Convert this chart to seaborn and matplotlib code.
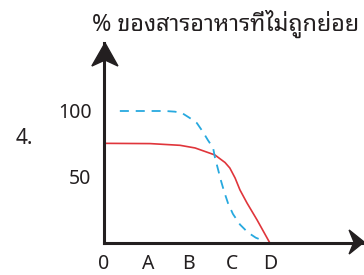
import pandas as pd
import seaborn as sns
import matplotlib.pyplot as plt
from matplotlib.patches import Polygon

# ข้อมูลจากภาพ (แกน x: 0, A, B, C, D)
tick_labels = ['0', 'A', 'B', 'C', 'D']
tick_pos = [0, 1.0, 1.91, 2.91, 3.77]

red_x = [0, 1.05, 1.73, 2.07, 2.52, 2.75, 2.86, 2.98, 3.09, 3.25, 3.48, 3.77]
red_y = [75.5, 75.3, 74, 72, 66.7, 61, 56.8, 49.2, 40.2, 30.3, 17.4, 0]

blue_x = [0.36, 1.39, 1.61, 1.77, 1.95, 2.11, 2.25, 2.36, 2.48, 2.52, 2.59, 2.66,
          2.73, 2.82, 2.93, 3.09, 3.27, 3.45, 3.64]
blue_y = [100, 100, 99.5, 98.5, 94.7, 90.9, 84.1, 78, 72, 65, 56, 47,
          39, 30, 22, 14, 8, 4, 1.5]

sns.set_style('white')
plt.rcParams['font.family'] = ['Noto Sans', 'Noto Sans Thai Looped', 'DejaVu Sans']
plt.rcParams['font.weight'] = 'light'
ink = '#231f20'

fig = plt.figure(figsize=(3.64, 2.75), dpi=100)
ax = fig.add_axes([104 / 364, 32 / 275, 258 / 364, 200 / 275])

df_red = pd.DataFrame({'x': red_x, 'y': red_y})
df_blue = pd.DataFrame({'x': blue_x, 'y': blue_y})
sns.lineplot(data=df_red, x='x', y='y', color='#e0353b', lw=1.2, ax=ax, sort=False)
sns.lineplot(data=df_blue, x='x', y='y', color='#27a9df', lw=1.3, ax=ax, sort=False,
             linestyle=(0, (5, 3.8)))

ax.set_xlim(0, 258 / 44)
ax.set_ylim(0, 200 * 50 / 66)
ax.set_xlabel('')
ax.set_ylabel('')

ax.set_xticks(tick_pos)
ax.set_xticklabels(tick_labels)
ax.set_yticks([50, 100])
ax.set_yticklabels(['50', '100'])
ax.tick_params(direction='inout', length=10, width=1.4, colors=ink,
               labelsize=14, labelcolor=ink)
ax.tick_params(axis='x', pad=3)
ax.tick_params(axis='y', pad=4)
ax.xaxis.get_major_ticks()[0].tick1line.set_visible(False)

sns.despine(ax=ax)
for s in ['left', 'bottom']:
    ax.spines[s].set_linewidth(2.2)
    ax.spines[s].set_color(ink)

# หัวลูกศร
up = Polygon([(0.004, 1.0), (-0.047, 0.885), (0.004, 0.915), (0.054, 0.885)],
             closed=True, transform=ax.transAxes, clip_on=False, color=ink)
right = Polygon([(1.008, 0.005), (0.950, 0.065), (0.969, 0.005), (0.950, -0.055)],
                closed=True, transform=ax.transAxes, clip_on=False, color=ink)
ax.add_patch(up)
ax.add_patch(right)

fig.text(92 / 364, 1 - 31 / 275, '% ของสารอาหารที่ไม่ถูกย่อย', fontsize=16.8,
         family=['Noto Sans Thai Looped', 'Noto Sans'], weight='light',
         va='baseline', ha='left', color=ink)
fig.text(24 / 364, 1 - 138 / 275, '4.', fontsize=15, ha='center', va='center',
         color=ink)

fig.savefig('out.png', dpi=100)
